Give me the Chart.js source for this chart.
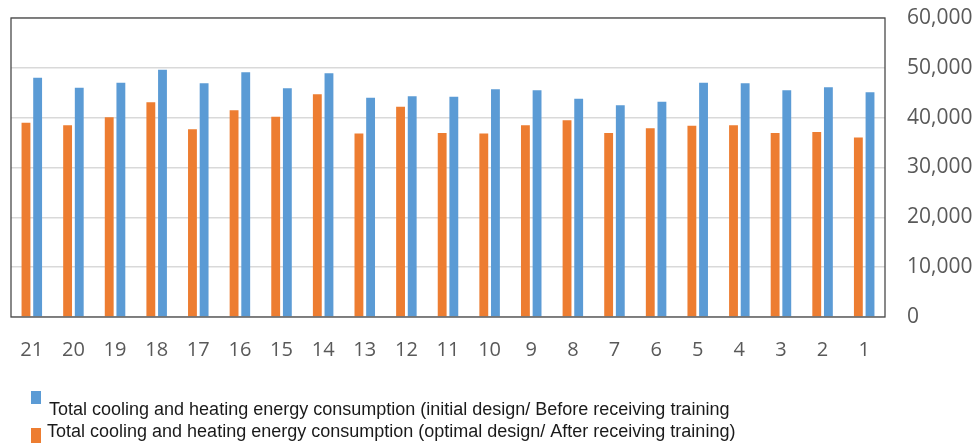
<!DOCTYPE html>
<html>
<head>
<meta charset="utf-8">
<script src="https://cdn.jsdelivr.net/npm/chart.js@4/dist/chart.umd.min.js"></script>
<style>
  html, body { margin: 0; padding: 0; background: #fff; }
  #wrap { width: 980px; height: 443px; position: relative; }
</style>
</head>
<body>
<div id="wrap"><canvas id="c" width="980" height="443"></canvas></div>
<script>
const categories = ["21","20","19","18","17","16","15","14","13","12","11","10","9","8","7","6","5","4","3","2","1"];
const optimalAfter = [39000,38500,40100,43100,37700,41500,40200,44700,36800,42200,36900,36800,38500,39500,36900,37900,38400,38500,36900,37100,36000];
const initialBefore = [48000,46000,47000,49600,46900,49100,45900,48900,44000,44300,44200,45700,45500,43800,42500,43200,47000,46900,45500,46100,45100];
const yTicks = [0,10000,20000,30000,40000,50000,60000];
const labelInitial = "Total cooling and heating energy consumption (initial design/ Before receiving training";
const labelOptimal = "Total cooling and heating energy consumption (optimal design/ After receiving training)";

const BLUE = "#5B9BD5", ORANGE = "#ED7D31";

const framePlugin = {
  id: 'frame',
  afterDatasetsDraw(chart) {
    const {ctx, chartArea: a} = chart;
    ctx.save();
    ctx.strokeStyle = '#4a4a4a';
    ctx.lineWidth = 1.3;
    ctx.strokeRect(a.left, a.top, a.right - a.left, a.bottom - a.top);
    ctx.restore();
  }
};

const legendPlugin = {
  id: 'customLegend',
  afterDraw(chart) {
    const ctx = chart.ctx;
    const ds = chart.data.datasets;
    const rows = [
      {d: ds[1], box: [31, 391, 10, 13], tx: 49, ty: 410},
      {d: ds[0], box: [31, 428, 10, 15], tx: 47, ty: 432}
    ];
    ctx.save();
    ctx.font = '18px "Liberation Sans Narrow", "Liberation Sans", sans-serif';
    ctx.textBaseline = 'middle';
    rows.forEach(r => {
      ctx.fillStyle = r.d.backgroundColor;
      ctx.fillRect(r.box[0], r.box[1], r.box[2], r.box[3]);
      ctx.fillStyle = '#1a1a1a';
      ctx.fillText(r.d.label, r.tx, r.ty);
    });
    ctx.restore();
  }
};

new Chart(document.getElementById('c'), {
  type: 'bar',
  data: {
    labels: categories,
    datasets: [
      {label: labelOptimal, data: optimalAfter, backgroundColor: ORANGE, barPercentage: 0.76, categoryPercentage: 0.56},
      {label: labelInitial, data: initialBefore, backgroundColor: BLUE, barPercentage: 0.76, categoryPercentage: 0.56}
    ]
  },
  options: {
    responsive: false,
    animation: false,
    devicePixelRatio: 1,
    layout: {padding: {left: 11, top: 18, right: 0, bottom: 0}},
    plugins: {legend: {display: false}, tooltip: {enabled: false}},
    scales: {
      x: {
        grid: {display: false, drawTicks: false},
        border: {display: false},
        ticks: {color: '#595959', font: {family: '"Open Sans", sans-serif', size: 20}, padding: 21, maxRotation: 0},
        afterFit(s) { s.height = 126; s.paddingLeft = 0; s.paddingRight = 0; }
      },
      y: {
        position: 'right',
        min: 0, max: 60000,
        afterBuildTicks(s) { s.ticks = yTicks.map(v => ({value: v})); },
        grid: {color: '#d9d9d9', lineWidth: 1.5, drawTicks: false},
        border: {display: false},
        ticks: {
          color: '#595959',
          font: {family: '"Open Sans", sans-serif', size: 21},
          padding: 22,
          callback: v => v.toLocaleString('en-US')
        },
        afterFit(s) { s.width = 95; s.paddingTop = 0; s.paddingBottom = 0; }
      }
    }
  },
  plugins: [framePlugin, legendPlugin]
});
</script>
</body>
</html>
